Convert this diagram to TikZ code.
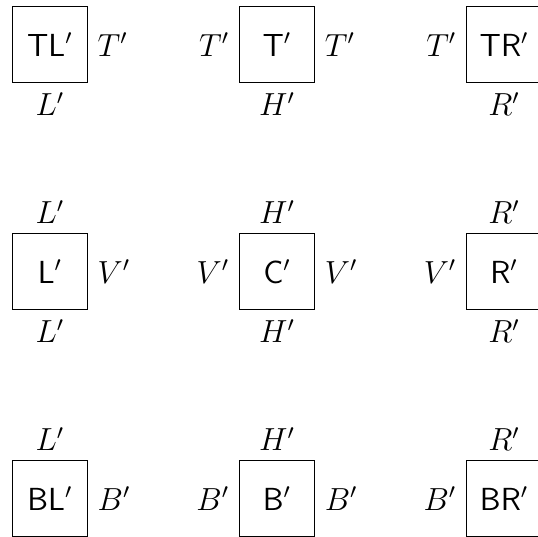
\documentclass[tikz,border=0pt]{standalone}
\begin{document}
\begin{tikzpicture}[
  cell/.style={draw, minimum size=1cm, inner sep=0pt, font=\large\sffamily},
  every label/.style={inner sep=3.33pt, font=\large}
]
\useasboundingbox (-0.66,-6.493) rectangle (6.447,0.588);
\node[cell, label=right:$T'$, label=below:$L'$] (tl) at (0,0) {TL$'$};
\node[cell, label=left:$T'$, label=right:$T'$, label=below:$H'$] (t) at (3,0) {T$'$};
\node[cell, label=left:$T'$, label=below:$R'$] (tr) at (6,0) {TR$'$};
\node[cell, label=above:$L'$, label=right:$V'$, label=below:$L'$] (l) at (0,-3) {L$'$};
\node[cell, label=above:$H'$, label=left:$V'$, label=right:$V'$, label=below:$H'$] (c) at (3,-3) {C$'$};
\node[cell, label=above:$R'$, label=left:$V'$, label=below:$R'$] (r) at (6,-3) {R$'$};
\node[cell, label=above:$L'$, label=right:$B'$] (bl) at (0,-6) {BL$'$};
\node[cell, label=above:$H'$, label=left:$B'$, label=right:$B'$] (b) at (3,-6) {B$'$};
\node[cell, label=above:$R'$, label=left:$B'$] (br) at (6,-6) {BR$'$};
\end{tikzpicture}
\end{document}
